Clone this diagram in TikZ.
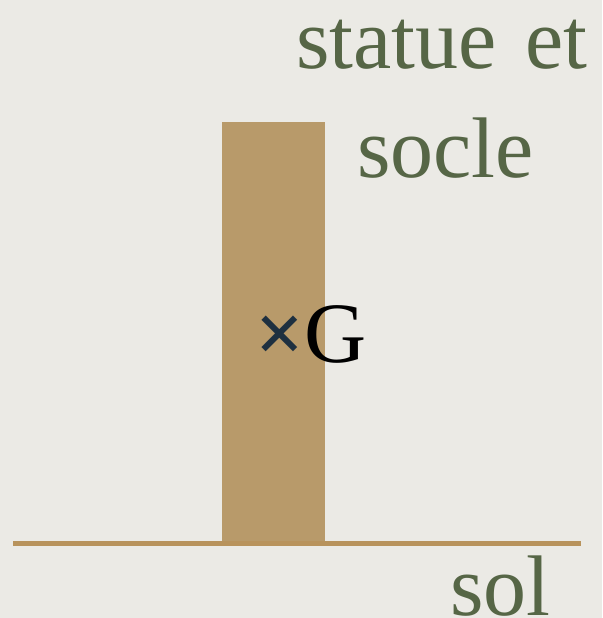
\documentclass[tikz,border=0pt]{standalone}
\usepackage{fontspec}
\setmainfont{Liberation Serif}
\definecolor{paper}{HTML}{EBEAE5}
\definecolor{stone}{HTML}{B89A6A}
\definecolor{ground}{HTML}{B8935C}
\definecolor{leaf}{HTML}{566646}
\definecolor{cross}{HTML}{1E3040}
\tikzset{big/.style={inner sep=0pt,font=\fontsize{86}{86}\selectfont}}
\begin{document}
\begin{tikzpicture}[x=1pt,y=-1pt]
% paper
\fill[paper] (0,0) rectangle (602,618);
\useasboundingbox (0,0) rectangle (602,618);

% statue and socle
\fill[stone] (222,122) rectangle (325,543) coordinate (foot);
\coordinate (left) at (13,543);
\coordinate (right) at (581,543);
\draw[ground,line width=5pt] (left) -- (right);

% labels
\node[big,leaf,anchor=base west] (statue) at (296,68) {statue\hspace{0.33em}et};
\node[big,leaf,anchor=base west] (socle) at (357,177) {socle};
\node[big,anchor=base west] (G) at (255,362) {{\color{cross}\bfseries×}G};
\node[big,leaf,anchor=base west] (sol) at (450,615) {sol};

\end{tikzpicture}
\end{document}
